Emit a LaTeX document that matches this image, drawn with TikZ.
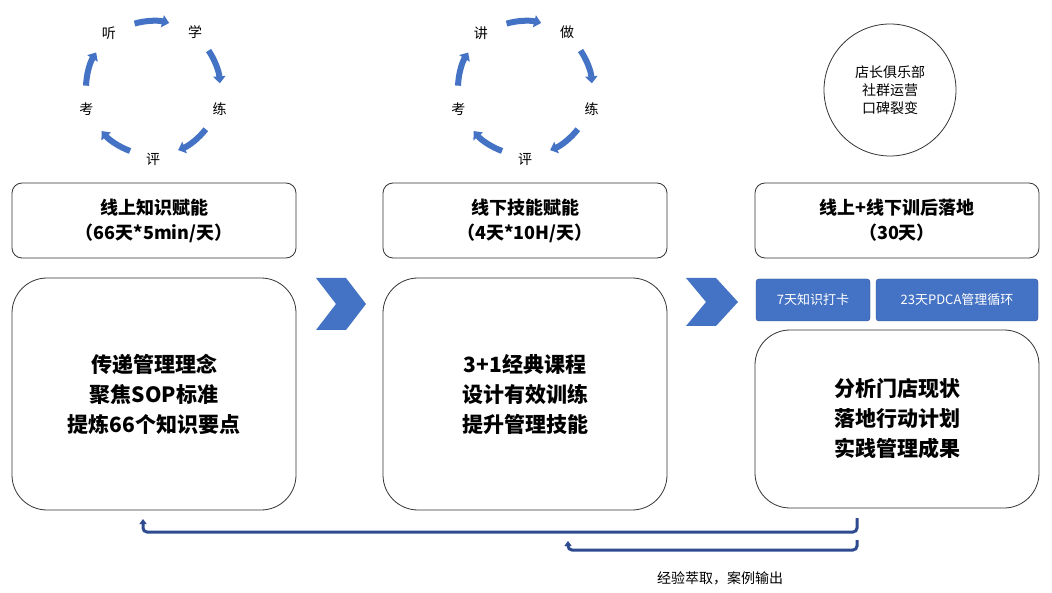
\documentclass[tikz,border=0pt]{standalone}
\usepackage{fontspec}
\setmainfont{Noto Sans CJK SC}
\usetikzlibrary{arrows.meta}
\definecolor{bl}{HTML}{4472C4}
\definecolor{nv}{HTML}{2F4B8F}
\begin{document}
\begin{tikzpicture}[x=1pt,y=-1pt,
 title/.style={draw=black!80,line width=0.8pt,rounded corners=10pt,minimum width=284pt,minimum height=75pt,inner sep=0pt,align=center,font=\fontsize{18}{25}\selectfont\bfseries},
 body/.style={draw=black!80,line width=0.8pt,rounded corners=35pt,minimum width=284pt,inner sep=0pt,align=center,font=\fontsize{21}{30}\selectfont\bfseries},
 tag/.style={draw=nv,fill=bl,rounded corners=3pt,minimum height=42pt,inner sep=0pt,text=white,font=\fontsize{13}{15}\selectfont},
 chev/.style={fill=bl},
 cyc/.style={bl,line width=6pt,-{Triangle[length=7pt,width=12pt]}},
 lab/.style={font=\fontsize{14}{16}\selectfont},
 back/.style={nv,line width=3pt,rounded corners=4pt,-{Triangle[length=5pt,width=7pt]}}]
\useasboundingbox (0,0) rectangle (1052,593);
\fill[white] (0,0) rectangle (1052,593);
% cycles
\foreach \cx/\la/\lb in {153/听/学,525/讲/做}{
 \foreach \s in {-106,-34,38,110,182}{
  \draw[cyc] ({\cx+67*cos(\s)},{88+67*sin(\s)}) arc[start angle=\s,end angle=\s+30,radius=67];
 }
 \node[lab] at ({\cx+70*cos(-129)},{88+70*sin(-129)}) {\la};
 \node[lab] at ({\cx+70*cos(-53)},{88+70*sin(-53)}) {\lb};
 \node[lab] at ({\cx+70*cos(18)},{88+70*sin(18)}) {练};
 \node[lab] at ({\cx+71*cos(90)},{88+71*sin(90)}) {评};
 \node[lab] at ({\cx+70*cos(162)},{88+70*sin(162)}) {考};
}
\node[draw=black!80,line width=0.8pt,circle,minimum size=132pt,inner sep=0pt,align=center,font=\fontsize{14}{18}\selectfont] (club) at (890,90) {店长俱乐部\\社群运营\\口碑裂变};
% titles
\node[title] (t1) at (154,220.5) {线上知识赋能\\（66天*5min/天）};
\node[title] (t2) at (525,220.5) {线下技能赋能\\（4天*10H/天）};
\node[title] (t3) at (897,220.5) {线上+线下训后落地\\（30天）};
% bodies
\node[body,minimum height=232pt] (b1) at (154,394) {传递管理理念\\聚焦SOP标准\\提炼66个知识要点};
\node[body,minimum height=232pt] (b2) at (525,394) {3+1经典课程\\设计有效训练\\提升管理技能};
\node[body,minimum height=178pt] (b3) at (897,419) {分析门店现状\\落地行动计划\\实践管理成果};
\node[tag,minimum width=114pt] (k1) at (813,300) {7天知识打卡};
\node[tag,minimum width=162pt] (k2) at (957,300) {23天PDCA管理循环};
% chevrons
\fill[chev] (316,278)--(346,278)--(366,304)--(346,330)--(316,330)--(336,304)--cycle;
\fill[chev] (686,278)--(716,278)--(738,302)--(716,326)--(686,326)--(706,302)--cycle;
% back arrows
\coordinate (s1) at (857,518); \coordinate (e1) at (143,519);
\coordinate (s2) at (857,540); \coordinate (e2) at (568,541);
\draw[back] (s1) |- (143,532) -- (e1);
\draw[back] (s2) |- (568,550) -- (e2);
\node[lab,font=\fontsize{14}{16}\selectfont] (note) at (720,578) {经验萃取，案例输出};
\end{tikzpicture}
\end{document}
